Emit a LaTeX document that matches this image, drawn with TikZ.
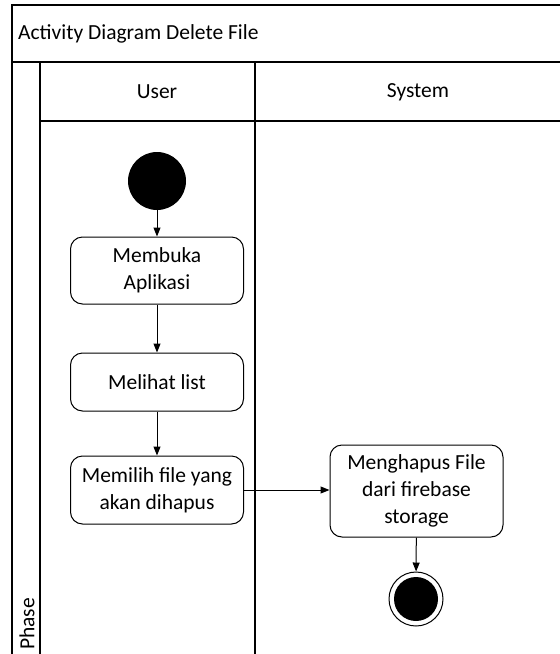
\documentclass[tikz,border=0pt]{standalone}
\usepackage{fontspec}
\setmainfont{Carlito}
\usetikzlibrary{arrows.meta}
\begin{document}
\begin{tikzpicture}[x=1pt,y=-1pt,
  lbl/.style={font=\fontsize{21.5}{27}\selectfont, inner sep=0pt},
  act/.style={draw, rounded corners=12pt, line width=1pt, minimum width=173pt, align=center, inner sep=0pt, font=\fontsize{21.5}{27}\selectfont},
  flow/.style={line width=1pt, -{Triangle[length=9pt,width=7pt]}},
  frame/.style={line width=1.2pt}]
\useasboundingbox (0,0) rectangle (560,654);
% frame
\draw[frame] (12,654) -- (12,5) -- (560,5);
\draw[frame] (12,62) -- (560,62);
\draw[frame] (40,121) -- (560,121);
\draw[frame] (40,62) -- (40,654);
\draw[frame] (255,62) -- (255,654);
\node[lbl, anchor=west] (title) at (18,34) {Activity Diagram Delete File};
\node[lbl] (user) at (157,92) {User};
\node[lbl] (system) at (418,92) {System};
\node[lbl, rotate=90, anchor=west] (phase) at (27,650) {Phase};
% nodes
\node[circle, fill=black, minimum size=58pt, inner sep=0pt] (start) at (157,181) {};
\node[act, minimum height=67pt] (a1) at (157,270.5) {Membuka\\Aplikasi};
\node[act, minimum height=58pt] (a2) at (157,382) {Melihat list};
\node[act, minimum height=68pt] (a3) at (157,490) {Memilih file yang\\akan dihapus};
\node[act, minimum height=92pt] (a4) at (416.5,491) {Menghapus File\\dari firebase\\storage};
\node[circle, draw, line width=1pt, minimum size=54pt, inner sep=0pt] (end) at (416,599) {};
\node[circle, fill=black, minimum size=44pt, inner sep=0pt] (endin) at (416,599) {};
% flows
\draw[flow] (start) -- (a1);
\draw[flow] (a1) -- (a2);
\draw[flow] (a2) -- (a3);
\draw[flow] (a3.east) -- (a3.east -| a4.west);
\draw[flow] (a4) -- (end);
\end{tikzpicture}
\end{document}
